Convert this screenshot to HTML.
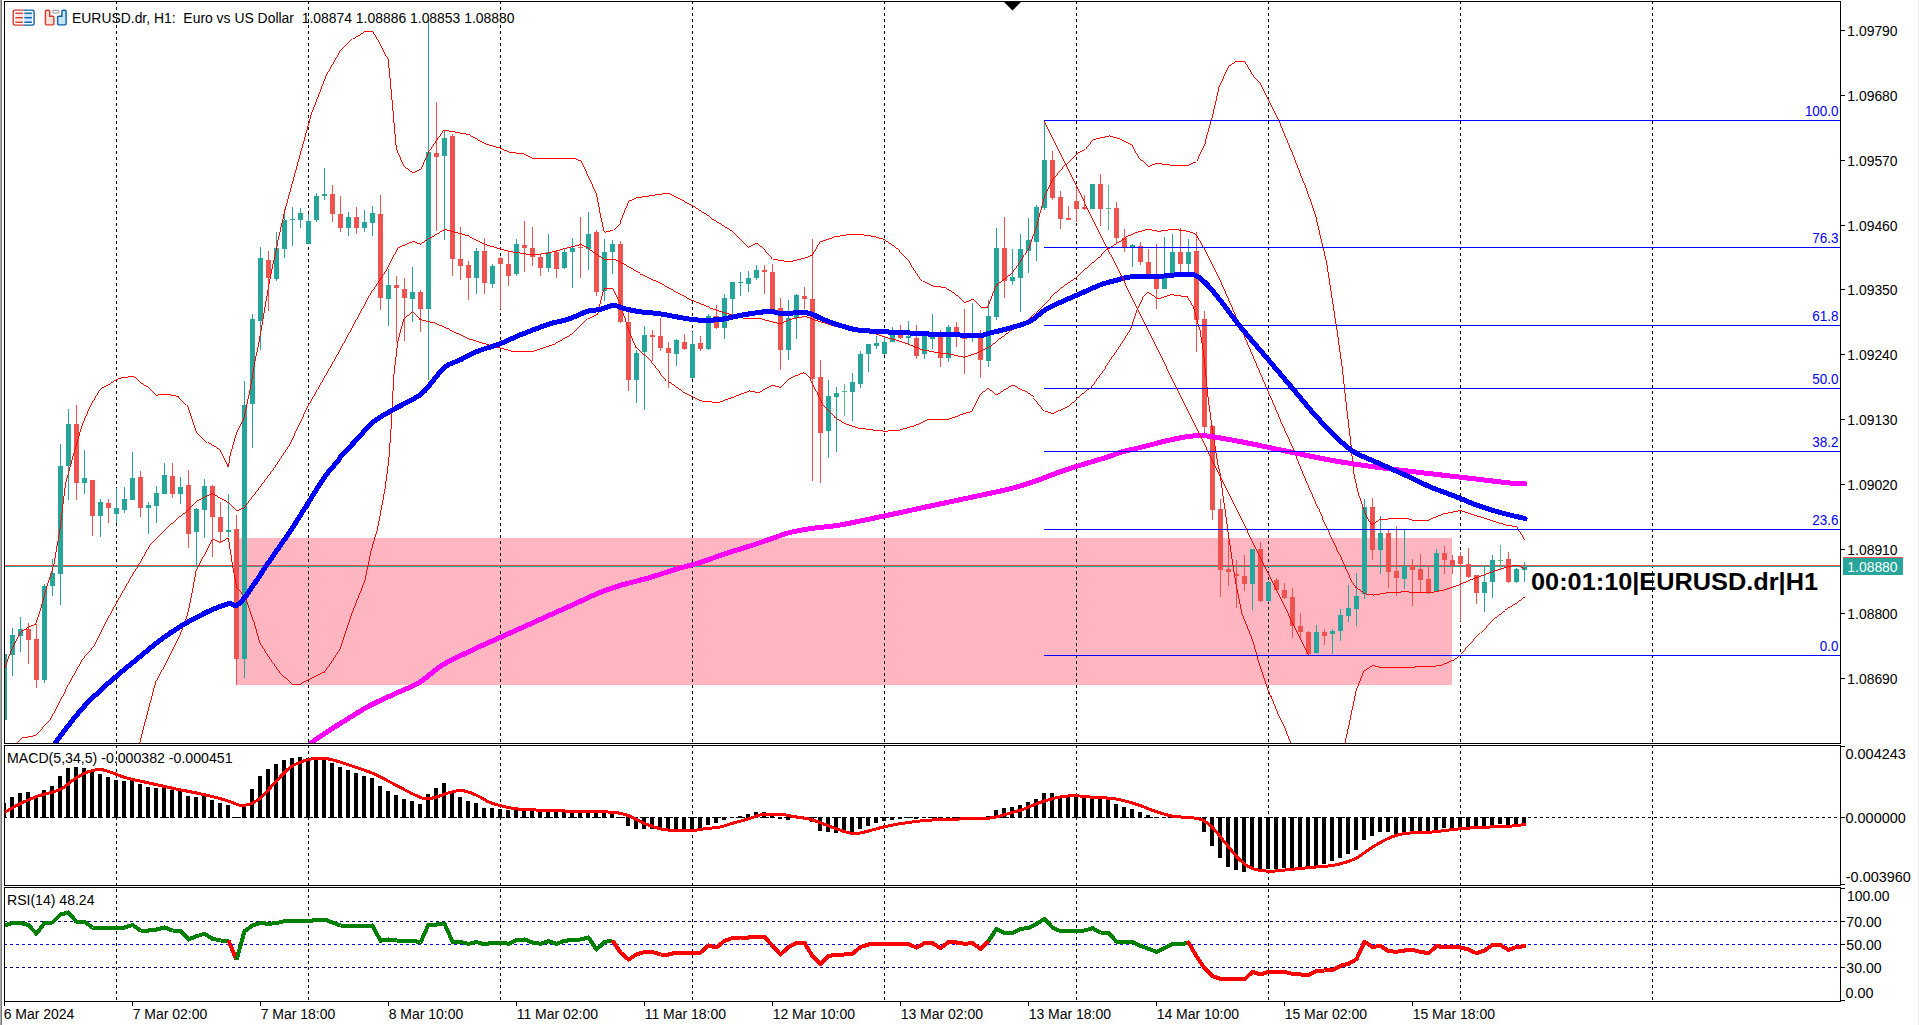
<!DOCTYPE html>
<html><head><meta charset="utf-8"><title>EURUSD.dr H1</title>
<style>html,body{margin:0;padding:0;background:#fff;overflow:hidden}svg{display:block;font-family:"Liberation Sans",sans-serif}</style></head><body>
<svg width="1919" height="1025" viewBox="0 0 1919 1025">
<rect width="1919" height="1025" fill="#fff"/>
<defs><clipPath id="cm"><rect x="5" y="2" width="1835" height="741"/></clipPath><clipPath id="c2"><rect x="5" y="746" width="1835" height="139"/></clipPath><clipPath id="c3"><rect x="5" y="888" width="1835" height="113"/></clipPath></defs>
<rect x="0" y="0" width="1" height="1025" fill="#a9a9a9"/><rect x="1" y="0" width="1" height="1025" fill="#787878"/>
<rect x="1918" y="0" width="1" height="1025" fill="#e6e6e6"/>
<g shape-rendering="crispEdges">
<rect x="236" y="538" width="1216" height="147" fill="#ffb6c1"/>
<line x1="116.5" y1="1" x2="116.5" y2="1001" stroke="#000" stroke-dasharray="3 3"/>
<line x1="308.5" y1="1" x2="308.5" y2="1001" stroke="#000" stroke-dasharray="3 3"/>
<line x1="500.5" y1="1" x2="500.5" y2="1001" stroke="#000" stroke-dasharray="3 3"/>
<line x1="692.5" y1="1" x2="692.5" y2="1001" stroke="#000" stroke-dasharray="3 3"/>
<line x1="884.5" y1="1" x2="884.5" y2="1001" stroke="#000" stroke-dasharray="3 3"/>
<line x1="1076.5" y1="1" x2="1076.5" y2="1001" stroke="#000" stroke-dasharray="3 3"/>
<line x1="1268.5" y1="1" x2="1268.5" y2="1001" stroke="#000" stroke-dasharray="3 3"/>
<line x1="1460.5" y1="1" x2="1460.5" y2="1001" stroke="#000" stroke-dasharray="3 3"/>
<line x1="1652.5" y1="1" x2="1652.5" y2="1001" stroke="#000" stroke-dasharray="3 3"/>
</g>
<g clip-path="url(#cm)">
<g shape-rendering="crispEdges"><rect x="5" y="565" width="1835" height="1" fill="#f24a48"/><rect x="5" y="566" width="1835" height="1" fill="#26a69a"/></g>
<g shape-rendering="crispEdges">
<rect x="4" y="652" width="1" height="69" fill="#26a69a"/>
<rect x="2" y="654" width="5" height="66" fill="#26a69a"/>
<rect x="12" y="628" width="1" height="48" fill="#26a69a"/>
<rect x="10" y="635" width="5" height="20" fill="#26a69a"/>
<rect x="20" y="617" width="1" height="35" fill="#26a69a"/>
<rect x="18" y="629" width="5" height="7" fill="#26a69a"/>
<rect x="28" y="623" width="1" height="41" fill="#ef5350"/>
<rect x="26" y="629" width="5" height="11" fill="#ef5350"/>
<rect x="36" y="624" width="1" height="64" fill="#ef5350"/>
<rect x="34" y="639" width="5" height="41" fill="#ef5350"/>
<rect x="44" y="584" width="1" height="99" fill="#26a69a"/>
<rect x="42" y="586" width="5" height="94" fill="#26a69a"/>
<rect x="52" y="559" width="1" height="37" fill="#26a69a"/>
<rect x="50" y="573" width="5" height="13" fill="#26a69a"/>
<rect x="60" y="444" width="1" height="161" fill="#26a69a"/>
<rect x="58" y="466" width="5" height="108" fill="#26a69a"/>
<rect x="68" y="409" width="1" height="91" fill="#26a69a"/>
<rect x="66" y="424" width="5" height="42" fill="#26a69a"/>
<rect x="76" y="405" width="1" height="95" fill="#ef5350"/>
<rect x="74" y="424" width="5" height="59" fill="#ef5350"/>
<rect x="84" y="450" width="1" height="44" fill="#26a69a"/>
<rect x="82" y="478" width="5" height="5" fill="#26a69a"/>
<rect x="92" y="480" width="1" height="56" fill="#ef5350"/>
<rect x="90" y="480" width="5" height="36" fill="#ef5350"/>
<rect x="100" y="499" width="1" height="38" fill="#26a69a"/>
<rect x="98" y="502" width="5" height="14" fill="#26a69a"/>
<rect x="108" y="499" width="1" height="24" fill="#ef5350"/>
<rect x="106" y="503" width="5" height="5" fill="#ef5350"/>
<rect x="116" y="488" width="1" height="35" fill="#26a69a"/>
<rect x="114" y="508" width="5" height="6" fill="#26a69a"/>
<rect x="124" y="487" width="1" height="26" fill="#26a69a"/>
<rect x="122" y="499" width="5" height="11" fill="#26a69a"/>
<rect x="132" y="452" width="1" height="48" fill="#26a69a"/>
<rect x="130" y="478" width="5" height="22" fill="#26a69a"/>
<rect x="140" y="471" width="1" height="46" fill="#ef5350"/>
<rect x="138" y="477" width="5" height="31" fill="#ef5350"/>
<rect x="148" y="502" width="1" height="32" fill="#26a69a"/>
<rect x="146" y="505" width="5" height="3" fill="#26a69a"/>
<rect x="156" y="486" width="1" height="37" fill="#26a69a"/>
<rect x="154" y="493" width="5" height="13" fill="#26a69a"/>
<rect x="164" y="463" width="1" height="31" fill="#26a69a"/>
<rect x="162" y="475" width="5" height="19" fill="#26a69a"/>
<rect x="172" y="463" width="1" height="35" fill="#ef5350"/>
<rect x="170" y="476" width="5" height="18" fill="#ef5350"/>
<rect x="180" y="477" width="1" height="27" fill="#26a69a"/>
<rect x="178" y="487" width="5" height="7" fill="#26a69a"/>
<rect x="188" y="470" width="1" height="78" fill="#ef5350"/>
<rect x="186" y="485" width="5" height="49" fill="#ef5350"/>
<rect x="196" y="508" width="1" height="58" fill="#26a69a"/>
<rect x="194" y="509" width="5" height="23" fill="#26a69a"/>
<rect x="204" y="479" width="1" height="59" fill="#26a69a"/>
<rect x="202" y="486" width="5" height="24" fill="#26a69a"/>
<rect x="212" y="485" width="1" height="72" fill="#ef5350"/>
<rect x="210" y="486" width="5" height="31" fill="#ef5350"/>
<rect x="220" y="502" width="1" height="41" fill="#ef5350"/>
<rect x="218" y="517" width="5" height="15" fill="#ef5350"/>
<rect x="228" y="494" width="1" height="43" fill="#26a69a"/>
<rect x="226" y="530" width="5" height="2" fill="#26a69a"/>
<rect x="236" y="515" width="1" height="170" fill="#ef5350"/>
<rect x="234" y="529" width="5" height="130" fill="#ef5350"/>
<rect x="244" y="381" width="1" height="297" fill="#26a69a"/>
<rect x="242" y="405" width="5" height="254" fill="#26a69a"/>
<rect x="252" y="314" width="1" height="134" fill="#26a69a"/>
<rect x="250" y="319" width="5" height="85" fill="#26a69a"/>
<rect x="260" y="247" width="1" height="103" fill="#26a69a"/>
<rect x="258" y="258" width="5" height="63" fill="#26a69a"/>
<rect x="268" y="251" width="1" height="60" fill="#ef5350"/>
<rect x="266" y="260" width="5" height="18" fill="#ef5350"/>
<rect x="276" y="232" width="1" height="49" fill="#26a69a"/>
<rect x="274" y="248" width="5" height="31" fill="#26a69a"/>
<rect x="284" y="209" width="1" height="49" fill="#26a69a"/>
<rect x="282" y="220" width="5" height="29" fill="#26a69a"/>
<rect x="292" y="207" width="1" height="39" fill="#26a69a"/>
<rect x="290" y="219" width="5" height="1" fill="#26a69a"/>
<rect x="300" y="208" width="1" height="20" fill="#26a69a"/>
<rect x="298" y="213" width="5" height="7" fill="#26a69a"/>
<rect x="308" y="214" width="1" height="30" fill="#26a69a"/>
<rect x="306" y="221" width="5" height="23" fill="#26a69a"/>
<rect x="316" y="193" width="1" height="29" fill="#26a69a"/>
<rect x="314" y="196" width="5" height="24" fill="#26a69a"/>
<rect x="324" y="168" width="1" height="32" fill="#26a69a"/>
<rect x="322" y="194" width="5" height="2" fill="#26a69a"/>
<rect x="332" y="185" width="1" height="37" fill="#ef5350"/>
<rect x="330" y="194" width="5" height="20" fill="#ef5350"/>
<rect x="340" y="196" width="1" height="36" fill="#ef5350"/>
<rect x="338" y="214" width="5" height="14" fill="#ef5350"/>
<rect x="348" y="212" width="1" height="24" fill="#26a69a"/>
<rect x="346" y="217" width="5" height="11" fill="#26a69a"/>
<rect x="356" y="207" width="1" height="27" fill="#ef5350"/>
<rect x="354" y="217" width="5" height="11" fill="#ef5350"/>
<rect x="364" y="210" width="1" height="22" fill="#26a69a"/>
<rect x="362" y="222" width="5" height="6" fill="#26a69a"/>
<rect x="372" y="206" width="1" height="30" fill="#26a69a"/>
<rect x="370" y="213" width="5" height="10" fill="#26a69a"/>
<rect x="380" y="195" width="1" height="115" fill="#ef5350"/>
<rect x="378" y="214" width="5" height="84" fill="#ef5350"/>
<rect x="388" y="269" width="1" height="57" fill="#26a69a"/>
<rect x="386" y="285" width="5" height="14" fill="#26a69a"/>
<rect x="396" y="276" width="1" height="66" fill="#ef5350"/>
<rect x="394" y="285" width="5" height="3" fill="#ef5350"/>
<rect x="404" y="278" width="1" height="63" fill="#ef5350"/>
<rect x="402" y="289" width="5" height="9" fill="#ef5350"/>
<rect x="412" y="267" width="1" height="55" fill="#26a69a"/>
<rect x="410" y="292" width="5" height="7" fill="#26a69a"/>
<rect x="420" y="290" width="1" height="42" fill="#ef5350"/>
<rect x="418" y="292" width="5" height="17" fill="#ef5350"/>
<rect x="428" y="19" width="1" height="361" fill="#26a69a"/>
<rect x="426" y="152" width="5" height="157" fill="#26a69a"/>
<rect x="436" y="102" width="1" height="129" fill="#ef5350"/>
<rect x="434" y="153" width="5" height="4" fill="#ef5350"/>
<rect x="444" y="131" width="1" height="109" fill="#26a69a"/>
<rect x="442" y="138" width="5" height="18" fill="#26a69a"/>
<rect x="452" y="134" width="1" height="142" fill="#ef5350"/>
<rect x="450" y="136" width="5" height="123" fill="#ef5350"/>
<rect x="460" y="227" width="1" height="53" fill="#ef5350"/>
<rect x="458" y="259" width="5" height="7" fill="#ef5350"/>
<rect x="468" y="261" width="1" height="39" fill="#ef5350"/>
<rect x="466" y="265" width="5" height="13" fill="#ef5350"/>
<rect x="476" y="248" width="1" height="46" fill="#26a69a"/>
<rect x="474" y="251" width="5" height="27" fill="#26a69a"/>
<rect x="484" y="238" width="1" height="56" fill="#ef5350"/>
<rect x="482" y="251" width="5" height="32" fill="#ef5350"/>
<rect x="492" y="264" width="1" height="24" fill="#26a69a"/>
<rect x="490" y="266" width="5" height="18" fill="#26a69a"/>
<rect x="500" y="257" width="1" height="52" fill="#ef5350"/>
<rect x="498" y="258" width="5" height="6" fill="#ef5350"/>
<rect x="508" y="251" width="1" height="35" fill="#ef5350"/>
<rect x="506" y="264" width="5" height="12" fill="#ef5350"/>
<rect x="516" y="239" width="1" height="37" fill="#26a69a"/>
<rect x="514" y="244" width="5" height="30" fill="#26a69a"/>
<rect x="524" y="221" width="1" height="51" fill="#ef5350"/>
<rect x="522" y="245" width="5" height="3" fill="#ef5350"/>
<rect x="532" y="227" width="1" height="39" fill="#ef5350"/>
<rect x="530" y="248" width="5" height="9" fill="#ef5350"/>
<rect x="540" y="254" width="1" height="22" fill="#ef5350"/>
<rect x="538" y="257" width="5" height="11" fill="#ef5350"/>
<rect x="548" y="234" width="1" height="38" fill="#26a69a"/>
<rect x="546" y="252" width="5" height="16" fill="#26a69a"/>
<rect x="556" y="250" width="1" height="28" fill="#ef5350"/>
<rect x="554" y="252" width="5" height="17" fill="#ef5350"/>
<rect x="564" y="248" width="1" height="21" fill="#26a69a"/>
<rect x="562" y="252" width="5" height="16" fill="#26a69a"/>
<rect x="572" y="238" width="1" height="50" fill="#26a69a"/>
<rect x="570" y="248" width="5" height="4" fill="#26a69a"/>
<rect x="580" y="217" width="1" height="61" fill="#ef5350"/>
<rect x="578" y="247" width="5" height="1" fill="#ef5350"/>
<rect x="588" y="212" width="1" height="58" fill="#26a69a"/>
<rect x="586" y="234" width="5" height="15" fill="#26a69a"/>
<rect x="596" y="230" width="1" height="66" fill="#ef5350"/>
<rect x="594" y="232" width="5" height="60" fill="#ef5350"/>
<rect x="604" y="239" width="1" height="62" fill="#26a69a"/>
<rect x="602" y="252" width="5" height="39" fill="#26a69a"/>
<rect x="612" y="240" width="1" height="34" fill="#26a69a"/>
<rect x="610" y="244" width="5" height="8" fill="#26a69a"/>
<rect x="620" y="241" width="1" height="82" fill="#ef5350"/>
<rect x="618" y="244" width="5" height="78" fill="#ef5350"/>
<rect x="628" y="312" width="1" height="79" fill="#ef5350"/>
<rect x="626" y="322" width="5" height="58" fill="#ef5350"/>
<rect x="636" y="350" width="1" height="53" fill="#26a69a"/>
<rect x="634" y="353" width="5" height="27" fill="#26a69a"/>
<rect x="644" y="326" width="1" height="84" fill="#26a69a"/>
<rect x="642" y="335" width="5" height="17" fill="#26a69a"/>
<rect x="652" y="330" width="1" height="31" fill="#ef5350"/>
<rect x="650" y="335" width="5" height="2" fill="#ef5350"/>
<rect x="660" y="318" width="1" height="33" fill="#ef5350"/>
<rect x="658" y="336" width="5" height="12" fill="#ef5350"/>
<rect x="668" y="342" width="1" height="46" fill="#ef5350"/>
<rect x="666" y="348" width="5" height="5" fill="#ef5350"/>
<rect x="676" y="339" width="1" height="27" fill="#26a69a"/>
<rect x="674" y="340" width="5" height="14" fill="#26a69a"/>
<rect x="684" y="334" width="1" height="16" fill="#ef5350"/>
<rect x="682" y="342" width="5" height="7" fill="#ef5350"/>
<rect x="692" y="332" width="1" height="47" fill="#26a69a"/>
<rect x="690" y="344" width="5" height="34" fill="#26a69a"/>
<rect x="700" y="336" width="1" height="15" fill="#ef5350"/>
<rect x="698" y="343" width="5" height="6" fill="#ef5350"/>
<rect x="708" y="314" width="1" height="36" fill="#26a69a"/>
<rect x="706" y="316" width="5" height="33" fill="#26a69a"/>
<rect x="716" y="305" width="1" height="24" fill="#ef5350"/>
<rect x="714" y="316" width="5" height="12" fill="#ef5350"/>
<rect x="724" y="294" width="1" height="45" fill="#26a69a"/>
<rect x="722" y="298" width="5" height="30" fill="#26a69a"/>
<rect x="732" y="282" width="1" height="33" fill="#26a69a"/>
<rect x="730" y="282" width="5" height="17" fill="#26a69a"/>
<rect x="740" y="272" width="1" height="24" fill="#26a69a"/>
<rect x="738" y="282" width="5" height="1" fill="#26a69a"/>
<rect x="748" y="271" width="1" height="21" fill="#26a69a"/>
<rect x="746" y="278" width="5" height="6" fill="#26a69a"/>
<rect x="756" y="265" width="1" height="15" fill="#26a69a"/>
<rect x="754" y="270" width="5" height="8" fill="#26a69a"/>
<rect x="764" y="265" width="1" height="29" fill="#ef5350"/>
<rect x="762" y="270" width="5" height="2" fill="#ef5350"/>
<rect x="772" y="264" width="1" height="46" fill="#ef5350"/>
<rect x="770" y="272" width="5" height="38" fill="#ef5350"/>
<rect x="780" y="298" width="1" height="72" fill="#ef5350"/>
<rect x="778" y="308" width="5" height="42" fill="#ef5350"/>
<rect x="788" y="300" width="1" height="60" fill="#26a69a"/>
<rect x="786" y="318" width="5" height="32" fill="#26a69a"/>
<rect x="796" y="294" width="1" height="45" fill="#26a69a"/>
<rect x="794" y="295" width="5" height="23" fill="#26a69a"/>
<rect x="804" y="287" width="1" height="22" fill="#ef5350"/>
<rect x="802" y="296" width="5" height="3" fill="#ef5350"/>
<rect x="812" y="239" width="1" height="242" fill="#ef5350"/>
<rect x="810" y="299" width="5" height="80" fill="#ef5350"/>
<rect x="820" y="360" width="1" height="123" fill="#ef5350"/>
<rect x="818" y="377" width="5" height="56" fill="#ef5350"/>
<rect x="828" y="380" width="1" height="78" fill="#26a69a"/>
<rect x="826" y="396" width="5" height="35" fill="#26a69a"/>
<rect x="836" y="387" width="1" height="65" fill="#26a69a"/>
<rect x="834" y="393" width="5" height="4" fill="#26a69a"/>
<rect x="844" y="384" width="1" height="32" fill="#5cba88"/>
<rect x="842" y="391" width="5" height="1" fill="#5cba88"/>
<rect x="852" y="373" width="1" height="48" fill="#26a69a"/>
<rect x="850" y="382" width="5" height="10" fill="#26a69a"/>
<rect x="860" y="351" width="1" height="37" fill="#26a69a"/>
<rect x="858" y="354" width="5" height="30" fill="#26a69a"/>
<rect x="868" y="344" width="1" height="28" fill="#26a69a"/>
<rect x="866" y="344" width="5" height="10" fill="#26a69a"/>
<rect x="876" y="336" width="1" height="13" fill="#26a69a"/>
<rect x="874" y="343" width="5" height="3" fill="#26a69a"/>
<rect x="884" y="336" width="1" height="19" fill="#26a69a"/>
<rect x="882" y="342" width="5" height="12" fill="#26a69a"/>
<rect x="892" y="327" width="1" height="15" fill="#26a69a"/>
<rect x="890" y="335" width="5" height="7" fill="#26a69a"/>
<rect x="900" y="325" width="1" height="14" fill="#ef5350"/>
<rect x="898" y="332" width="5" height="6" fill="#ef5350"/>
<rect x="908" y="321" width="1" height="23" fill="#26a69a"/>
<rect x="906" y="336" width="5" height="2" fill="#26a69a"/>
<rect x="916" y="325" width="1" height="34" fill="#ef5350"/>
<rect x="914" y="338" width="5" height="18" fill="#ef5350"/>
<rect x="924" y="336" width="1" height="23" fill="#26a69a"/>
<rect x="922" y="336" width="5" height="18" fill="#26a69a"/>
<rect x="932" y="314" width="1" height="35" fill="#26a69a"/>
<rect x="930" y="336" width="5" height="3" fill="#26a69a"/>
<rect x="940" y="330" width="1" height="37" fill="#ef5350"/>
<rect x="938" y="336" width="5" height="22" fill="#ef5350"/>
<rect x="948" y="325" width="1" height="37" fill="#26a69a"/>
<rect x="946" y="327" width="5" height="31" fill="#26a69a"/>
<rect x="956" y="322" width="1" height="25" fill="#ef5350"/>
<rect x="954" y="327" width="5" height="5" fill="#ef5350"/>
<rect x="964" y="309" width="1" height="65" fill="#ef5350"/>
<rect x="962" y="336" width="5" height="3" fill="#ef5350"/>
<rect x="972" y="303" width="1" height="39" fill="#26a69a"/>
<rect x="970" y="336" width="5" height="2" fill="#26a69a"/>
<rect x="980" y="330" width="1" height="48" fill="#ef5350"/>
<rect x="978" y="338" width="5" height="22" fill="#ef5350"/>
<rect x="988" y="300" width="1" height="67" fill="#26a69a"/>
<rect x="986" y="316" width="5" height="45" fill="#26a69a"/>
<rect x="996" y="228" width="1" height="92" fill="#26a69a"/>
<rect x="994" y="248" width="5" height="69" fill="#26a69a"/>
<rect x="1004" y="217" width="1" height="81" fill="#ef5350"/>
<rect x="1002" y="248" width="5" height="33" fill="#ef5350"/>
<rect x="1012" y="249" width="1" height="36" fill="#26a69a"/>
<rect x="1010" y="277" width="5" height="4" fill="#26a69a"/>
<rect x="1020" y="234" width="1" height="78" fill="#26a69a"/>
<rect x="1018" y="249" width="5" height="29" fill="#26a69a"/>
<rect x="1028" y="218" width="1" height="55" fill="#26a69a"/>
<rect x="1026" y="240" width="5" height="11" fill="#26a69a"/>
<rect x="1036" y="205" width="1" height="56" fill="#26a69a"/>
<rect x="1034" y="207" width="5" height="35" fill="#26a69a"/>
<rect x="1044" y="120" width="1" height="90" fill="#26a69a"/>
<rect x="1042" y="160" width="5" height="48" fill="#26a69a"/>
<rect x="1052" y="151" width="1" height="49" fill="#ef5350"/>
<rect x="1050" y="160" width="5" height="38" fill="#ef5350"/>
<rect x="1060" y="191" width="1" height="38" fill="#ef5350"/>
<rect x="1058" y="197" width="5" height="22" fill="#ef5350"/>
<rect x="1068" y="206" width="1" height="14" fill="#ef5350"/>
<rect x="1066" y="218" width="5" height="2" fill="#ef5350"/>
<rect x="1076" y="188" width="1" height="34" fill="#ef5350"/>
<rect x="1074" y="201" width="5" height="8" fill="#ef5350"/>
<rect x="1084" y="195" width="1" height="15" fill="#ef5350"/>
<rect x="1082" y="207" width="5" height="2" fill="#ef5350"/>
<rect x="1092" y="184" width="1" height="25" fill="#26a69a"/>
<rect x="1090" y="184" width="5" height="25" fill="#26a69a"/>
<rect x="1100" y="174" width="1" height="52" fill="#ef5350"/>
<rect x="1098" y="184" width="5" height="25" fill="#ef5350"/>
<rect x="1108" y="185" width="1" height="45" fill="#5cba88"/>
<rect x="1106" y="208" width="5" height="1" fill="#5cba88"/>
<rect x="1116" y="202" width="1" height="42" fill="#ef5350"/>
<rect x="1114" y="208" width="5" height="30" fill="#ef5350"/>
<rect x="1124" y="229" width="1" height="23" fill="#ef5350"/>
<rect x="1122" y="238" width="5" height="9" fill="#ef5350"/>
<rect x="1132" y="244" width="1" height="23" fill="#26a69a"/>
<rect x="1130" y="245" width="5" height="2" fill="#26a69a"/>
<rect x="1140" y="242" width="1" height="23" fill="#ef5350"/>
<rect x="1138" y="246" width="5" height="16" fill="#ef5350"/>
<rect x="1148" y="249" width="1" height="27" fill="#ef5350"/>
<rect x="1146" y="262" width="5" height="13" fill="#ef5350"/>
<rect x="1156" y="244" width="1" height="65" fill="#ef5350"/>
<rect x="1154" y="274" width="5" height="15" fill="#ef5350"/>
<rect x="1164" y="237" width="1" height="52" fill="#26a69a"/>
<rect x="1162" y="274" width="5" height="15" fill="#26a69a"/>
<rect x="1172" y="234" width="1" height="42" fill="#26a69a"/>
<rect x="1170" y="252" width="5" height="23" fill="#26a69a"/>
<rect x="1180" y="228" width="1" height="44" fill="#ef5350"/>
<rect x="1178" y="252" width="5" height="12" fill="#ef5350"/>
<rect x="1188" y="239" width="1" height="35" fill="#26a69a"/>
<rect x="1186" y="252" width="5" height="12" fill="#26a69a"/>
<rect x="1196" y="232" width="1" height="120" fill="#ef5350"/>
<rect x="1194" y="251" width="5" height="69" fill="#ef5350"/>
<rect x="1204" y="311" width="1" height="124" fill="#ef5350"/>
<rect x="1202" y="319" width="5" height="108" fill="#ef5350"/>
<rect x="1212" y="425" width="1" height="95" fill="#ef5350"/>
<rect x="1210" y="426" width="5" height="84" fill="#ef5350"/>
<rect x="1220" y="499" width="1" height="98" fill="#ef5350"/>
<rect x="1218" y="509" width="5" height="61" fill="#ef5350"/>
<rect x="1228" y="540" width="1" height="46" fill="#ef5350"/>
<rect x="1226" y="569" width="5" height="3" fill="#ef5350"/>
<rect x="1236" y="560" width="1" height="48" fill="#ef5350"/>
<rect x="1234" y="574" width="5" height="2" fill="#ef5350"/>
<rect x="1244" y="555" width="1" height="36" fill="#ef5350"/>
<rect x="1242" y="576" width="5" height="8" fill="#ef5350"/>
<rect x="1252" y="549" width="1" height="61" fill="#26a69a"/>
<rect x="1250" y="549" width="5" height="35" fill="#26a69a"/>
<rect x="1260" y="542" width="1" height="60" fill="#ef5350"/>
<rect x="1258" y="549" width="5" height="52" fill="#ef5350"/>
<rect x="1268" y="581" width="1" height="21" fill="#26a69a"/>
<rect x="1266" y="582" width="5" height="19" fill="#26a69a"/>
<rect x="1276" y="578" width="1" height="13" fill="#ef5350"/>
<rect x="1274" y="580" width="5" height="10" fill="#ef5350"/>
<rect x="1284" y="583" width="1" height="16" fill="#ef5350"/>
<rect x="1282" y="590" width="5" height="8" fill="#ef5350"/>
<rect x="1292" y="588" width="1" height="50" fill="#ef5350"/>
<rect x="1290" y="597" width="5" height="29" fill="#ef5350"/>
<rect x="1300" y="613" width="1" height="25" fill="#ef5350"/>
<rect x="1298" y="626" width="5" height="6" fill="#ef5350"/>
<rect x="1308" y="631" width="1" height="23" fill="#ef5350"/>
<rect x="1306" y="632" width="5" height="22" fill="#ef5350"/>
<rect x="1316" y="625" width="1" height="29" fill="#26a69a"/>
<rect x="1314" y="632" width="5" height="21" fill="#26a69a"/>
<rect x="1324" y="629" width="1" height="16" fill="#ef5350"/>
<rect x="1322" y="632" width="5" height="4" fill="#ef5350"/>
<rect x="1332" y="629" width="1" height="25" fill="#26a69a"/>
<rect x="1330" y="631" width="5" height="3" fill="#26a69a"/>
<rect x="1340" y="609" width="1" height="32" fill="#26a69a"/>
<rect x="1338" y="615" width="5" height="16" fill="#26a69a"/>
<rect x="1348" y="585" width="1" height="37" fill="#26a69a"/>
<rect x="1346" y="608" width="5" height="8" fill="#26a69a"/>
<rect x="1356" y="573" width="1" height="53" fill="#26a69a"/>
<rect x="1354" y="596" width="5" height="13" fill="#26a69a"/>
<rect x="1364" y="499" width="1" height="100" fill="#26a69a"/>
<rect x="1362" y="507" width="5" height="87" fill="#26a69a"/>
<rect x="1372" y="498" width="1" height="62" fill="#ef5350"/>
<rect x="1370" y="507" width="5" height="43" fill="#ef5350"/>
<rect x="1380" y="516" width="1" height="58" fill="#26a69a"/>
<rect x="1378" y="533" width="5" height="17" fill="#26a69a"/>
<rect x="1388" y="530" width="1" height="58" fill="#ef5350"/>
<rect x="1386" y="533" width="5" height="39" fill="#ef5350"/>
<rect x="1396" y="526" width="1" height="70" fill="#ef5350"/>
<rect x="1394" y="571" width="5" height="7" fill="#ef5350"/>
<rect x="1404" y="530" width="1" height="59" fill="#26a69a"/>
<rect x="1402" y="566" width="5" height="13" fill="#26a69a"/>
<rect x="1412" y="559" width="1" height="47" fill="#ef5350"/>
<rect x="1410" y="566" width="5" height="4" fill="#ef5350"/>
<rect x="1420" y="554" width="1" height="38" fill="#ef5350"/>
<rect x="1418" y="569" width="5" height="11" fill="#ef5350"/>
<rect x="1428" y="566" width="1" height="28" fill="#ef5350"/>
<rect x="1426" y="579" width="5" height="14" fill="#ef5350"/>
<rect x="1436" y="549" width="1" height="43" fill="#26a69a"/>
<rect x="1434" y="553" width="5" height="39" fill="#26a69a"/>
<rect x="1444" y="546" width="1" height="28" fill="#ef5350"/>
<rect x="1442" y="553" width="5" height="7" fill="#ef5350"/>
<rect x="1452" y="555" width="1" height="19" fill="#ef5350"/>
<rect x="1450" y="560" width="5" height="5" fill="#ef5350"/>
<rect x="1460" y="552" width="1" height="69" fill="#ef5350"/>
<rect x="1458" y="556" width="5" height="8" fill="#ef5350"/>
<rect x="1468" y="548" width="1" height="30" fill="#ef5350"/>
<rect x="1466" y="564" width="5" height="13" fill="#ef5350"/>
<rect x="1476" y="575" width="1" height="29" fill="#ef5350"/>
<rect x="1474" y="575" width="5" height="18" fill="#ef5350"/>
<rect x="1484" y="565" width="1" height="47" fill="#26a69a"/>
<rect x="1482" y="582" width="5" height="11" fill="#26a69a"/>
<rect x="1492" y="555" width="1" height="43" fill="#26a69a"/>
<rect x="1490" y="560" width="5" height="22" fill="#26a69a"/>
<rect x="1500" y="545" width="1" height="24" fill="#5cba88"/>
<rect x="1498" y="560" width="5" height="1" fill="#5cba88"/>
<rect x="1508" y="552" width="1" height="31" fill="#ef5350"/>
<rect x="1506" y="559" width="5" height="23" fill="#ef5350"/>
<rect x="1516" y="568" width="1" height="15" fill="#26a69a"/>
<rect x="1514" y="569" width="5" height="13" fill="#26a69a"/>
<rect x="1524" y="562" width="1" height="20" fill="#26a69a"/>
<rect x="1522" y="566" width="5" height="4" fill="#26a69a"/>
</g>
<polyline points="4.7,668.4 11.3,650.0 20.6,632.2 28.1,627.5 35.6,624.2 40.3,610.6 46.9,586.3 53.8,565.0 60.0,529.0 65.5,484.0 75.0,449.0 82.5,424.0 91.3,404.0 100.6,388.8 108.1,385.0 115.6,380.0 122.5,377.5 132.5,376.3 140.0,382.5 148.1,387.3 156.3,395.3 165.0,394.0 178.8,396.5 187.5,405.3 196.3,431.5 207.5,442.8 220.0,450.3 223.0,455.8 228.3,467.3 230.0,456.0 236.3,433.8 243.8,418.8 250.0,390.0 255.0,361.3 259.4,340.0 268.8,285.0 277.5,242.5 285.0,210.0 300.0,155.0 312.5,110.0 325.0,77.5 340.0,51.3 352.5,38.8 363.8,31.8 372.5,31.3 380.0,43.8 388.3,60.0 392.0,100.0 396.3,148.8 403.8,166.3 412.5,172.5 420.5,168.8 428.3,152.5 443.8,130.0 468.8,134.5 485.0,143.8 500.0,148.0 508.8,152.0 522.5,153.8 532.5,158.8 575.0,158.8 581.3,161.3 596.3,193.8 600.0,212.5 604.5,232.0 612.5,230.0 620.0,222.5 628.8,201.3 637.5,197.5 667.5,193.0 692.5,206.3 710.0,217.5 732.5,231.3 747.5,247.0 756.3,243.0 765.0,249.5 772.5,259.3 788.8,262.0 805.0,258.0 812.5,255.0 820.0,242.0 835.0,236.8 850.0,234.3 860.0,234.3 872.5,236.3 885.0,240.0 897.5,248.8 910.0,262.5 922.5,281.3 932.5,286.3 945.0,287.5 955.0,293.8 965.0,302.5 972.5,299.3 981.3,308.0 987.5,307.5 996.3,285.0 1005.0,278.8 1012.5,272.5 1021.3,260.0 1028.8,247.5 1037.5,222.5 1045.0,195.0 1052.5,180.0 1065.0,165.0 1077.5,152.5 1085.0,148.8 1092.5,139.5 1108.8,135.8 1120.0,138.8 1132.5,145.5 1140.0,158.8 1148.8,166.3 1156.3,163.3 1170.0,165.0 1187.5,165.0 1196.3,161.3 1205.0,142.5 1211.3,120.0 1218.8,87.5 1228.8,66.3 1236.3,61.3 1244.5,61.3 1251.3,72.5 1260.0,82.5 1270.0,102.5 1280.0,122.5 1292.5,152.5 1305.0,185.0 1316.3,217.5 1323.8,250.0 1327.5,267.5 1336.3,325.0 1342.5,370.0 1346.3,405.0 1351.3,447.5 1353.8,472.5 1358.8,495.0 1365.0,512.5 1372.0,525.0 1380.0,519.5 1405.0,518.0 1413.8,520.5 1427.5,520.0 1442.5,513.8 1460.0,510.5 1477.5,516.3 1492.5,521.3 1507.5,525.8 1516.3,526.3 1524.5,539.5" fill="none" stroke="#ff0000" stroke-width="0.99" shape-rendering="crispEdges"/>
<polyline points="16.9,742.9 22.5,737.8 35.6,735.4 48.8,721.3 65.7,689.5 82.5,659.4 93.8,646.3 105.0,623.8 116.3,603.2 131.3,576.9 141.6,560.0 150.0,545.0 156.0,538.7 176.3,519.4 187.2,511.2 196.7,501.0 212.3,493.6 229.2,503.0 236.7,511.2 244.1,507.8 260.0,487.0 275.0,467.0 290.0,444.0 307.5,407.0 340.0,350.0 372.5,290.0 387.5,267.5 397.5,247.5 412.5,241.3 420.0,244.5 428.8,238.8 444.5,229.5 468.8,236.3 485.0,244.5 508.8,251.3 532.5,255.0 550.0,252.5 580.5,244.5 590.0,250.0 605.0,260.0 615.0,259.3 622.5,263.8 640.0,273.8 660.0,283.0 675.0,291.3 692.5,300.8 710.0,308.0 725.0,313.0 742.5,318.0 757.5,318.0 770.0,321.3 780.0,323.8 792.5,318.8 805.0,316.3 815.0,320.0 835.0,326.3 855.0,331.3 875.0,333.8 892.5,339.3 910.0,345.0 922.5,350.0 935.0,352.5 947.5,353.8 963.8,357.5 975.0,353.8 987.5,347.5 996.3,341.3 1010.0,331.3 1022.5,323.8 1035.0,312.5 1050.0,297.5 1065.0,285.0 1076.3,277.5 1092.5,262.5 1107.5,248.8 1125.0,237.5 1135.0,233.0 1147.5,229.3 1157.5,231.3 1172.5,229.3 1187.5,231.3 1196.3,235.0 1205.0,250.0 1220.0,280.0 1237.5,320.0 1252.5,355.0 1267.5,390.0 1282.5,425.0 1295.0,452.5 1305.0,477.5 1322.5,517.5 1340.0,555.0 1350.0,577.5 1356.3,587.5 1365.0,593.8 1372.5,595.0 1387.5,592.5 1405.0,591.8 1427.5,593.0 1442.5,590.0 1460.0,584.3 1477.5,577.0 1492.5,571.3 1505.0,567.5 1516.3,565.0 1525.0,568.8" fill="none" stroke="#ff0000" stroke-width="0.99" shape-rendering="crispEdges"/>
<polyline points="139.8,742.9 148.2,710.0 155.7,682.0 165.0,665.0 180.0,635.0 187.6,614.4 192.3,591.9 196.0,571.3 201.7,560.0 212.5,539.0 220.0,542.8 228.3,537.8 232.5,565.0 234.5,575.0 236.8,588.1 245.8,597.5 253.3,620.0 259.8,642.6 270.2,659.4 281.4,674.4 292.7,684.2 300.2,684.2 309.6,679.1 324.6,672.0 339.6,650.0 350.8,616.3 360.0,592.8 365.5,577.5 371.3,550.0 377.5,529.0 385.0,489.0 388.8,460.0 391.3,425.0 393.8,375.0 397.5,342.5 403.8,318.8 412.5,311.8 420.0,319.5 432.5,322.5 450.0,330.0 468.8,338.8 485.0,343.8 500.0,348.0 512.5,351.3 532.5,351.3 555.0,343.8 572.5,333.8 587.5,318.8 597.5,313.8 602.5,292.5 605.0,288.3 612.5,288.3 620.0,302.5 625.0,317.5 630.0,332.5 636.3,347.5 650.0,360.0 660.0,372.5 667.5,381.3 682.5,392.0 692.5,397.5 700.0,400.8 717.5,402.5 732.5,397.0 748.8,390.8 757.5,392.5 772.5,385.5 780.0,387.5 788.8,378.8 803.8,372.5 810.0,377.5 816.3,391.0 822.5,404.0 835.0,417.5 845.0,423.8 857.5,428.0 872.5,430.0 885.0,431.3 900.0,430.0 912.5,426.3 927.5,419.5 947.5,419.3 960.0,415.0 972.0,411.3 980.0,395.0 988.0,388.0 996.3,395.0 1012.5,385.0 1022.5,390.0 1033.8,397.5 1045.0,411.3 1052.5,413.3 1067.5,406.3 1076.3,398.8 1090.0,388.0 1105.0,367.5 1120.0,346.0 1130.0,330.0 1137.5,307.5 1142.5,297.5 1148.0,292.0 1157.5,298.8 1170.0,294.5 1187.5,297.0 1193.8,307.5 1200.0,330.0 1203.8,355.0 1207.5,392.5 1212.5,430.0 1217.5,462.5 1220.0,472.5 1227.5,527.5 1235.0,577.5 1242.5,615.0 1252.5,640.0 1257.5,657.5 1267.5,687.5 1277.5,712.5 1285.0,727.5 1290.8,742.5 1300.0,770.0 1340.0,770.0 1345.0,742.5 1350.0,720.0 1356.3,690.0 1363.8,671.3 1372.5,665.5 1380.0,667.5 1415.0,667.0 1440.0,665.8 1452.5,660.5 1461.3,653.8 1470.0,643.8 1480.0,633.0 1492.5,619.5 1505.0,610.0 1516.3,603.3 1524.5,597.0" fill="none" stroke="#ff0000" stroke-width="0.99" shape-rendering="crispEdges"/>
<path d="M306.0,748.0 C307.1,747.0 308.5,745.0 312.5,742.0 C316.5,739.0 323.8,734.1 330.0,730.0 C336.2,725.9 343.3,721.6 350.0,717.5 C356.7,713.4 362.5,709.5 370.0,705.5 C377.5,701.5 386.7,697.7 395.0,693.8 C403.3,689.9 412.1,686.8 420.0,682.0 C427.9,677.2 433.3,670.5 442.5,665.0 C451.7,659.5 465.4,653.4 475.0,648.8 C484.6,644.2 491.7,641.2 500.0,637.5 C508.3,633.8 516.7,630.0 525.0,626.3 C533.3,622.5 541.7,618.8 550.0,615.0 C558.3,611.2 566.7,607.5 575.0,603.8 C583.3,600.0 592.5,595.5 600.0,592.5 C607.5,589.5 611.7,588.0 620.0,585.5 C628.3,583.0 640.8,580.2 650.0,577.5 C659.2,574.8 666.7,572.0 675.0,569.5 C683.3,567.0 691.7,565.1 700.0,562.5 C708.3,559.9 716.7,556.5 725.0,553.8 C733.3,551.0 742.5,548.4 750.0,546.0 C757.5,543.6 763.3,541.5 770.0,539.3 C776.7,537.0 782.5,534.4 790.0,532.5 C797.5,530.6 806.7,529.2 815.0,528.0 C823.3,526.8 828.3,527.0 840.0,525.0 C851.7,523.0 873.3,518.2 885.0,515.8 C896.7,513.4 901.7,512.3 910.0,510.5 C918.3,508.7 924.6,507.2 935.0,505.0 C945.4,502.8 960.0,499.7 972.5,497.0 C985.0,494.3 999.6,491.4 1010.0,488.8 C1020.4,486.2 1026.7,484.1 1035.0,481.3 C1043.3,478.5 1051.7,474.7 1060.0,471.8 C1068.3,468.9 1076.7,466.4 1085.0,463.8 C1093.3,461.2 1104.2,458.2 1110.0,456.3 C1115.8,454.4 1114.2,454.2 1120.0,452.5 C1125.8,450.8 1136.7,448.4 1145.0,446.3 C1153.3,444.2 1162.5,441.7 1170.0,440.0 C1177.5,438.3 1184.2,437.0 1190.0,436.3 C1195.8,435.6 1199.2,435.4 1205.0,435.8 C1210.8,436.2 1216.7,437.4 1225.0,438.8 C1233.3,440.2 1243.3,442.1 1255.0,444.5 C1266.7,446.9 1282.1,450.3 1295.0,453.0 C1307.9,455.7 1320.0,458.3 1332.5,460.5 C1345.0,462.7 1355.4,464.3 1370.0,466.3 C1384.6,468.3 1403.3,470.5 1420.0,472.5 C1436.7,474.5 1455.0,476.6 1470.0,478.3 C1485.0,480.1 1500.8,482.1 1510.0,483.0 C1519.2,483.9 1522.5,483.7 1525.0,483.8" fill="none" stroke="#ff00ff" stroke-width="5" stroke-linejoin="round" stroke-linecap="round" shape-rendering="crispEdges"/>
<path d="M52.0,748.0 C52.5,747.1 53.0,746.1 55.3,742.9 C57.6,739.7 61.2,734.7 65.7,728.9 C70.2,723.1 76.6,714.8 82.5,708.2 C88.4,701.6 95.7,694.8 101.3,689.5 C106.9,684.2 110.0,681.6 116.3,676.3 C122.5,671.0 131.6,663.5 138.8,657.6 C146.0,651.7 152.6,645.9 159.5,640.7 C166.4,635.5 173.8,630.5 180.1,626.6 C186.3,622.7 191.7,620.0 197.0,617.2 C202.3,614.4 206.7,612.0 212.0,609.7 C217.3,607.5 224.9,604.4 228.9,603.7 C232.9,603.0 233.5,606.5 236.0,605.6 C238.5,604.7 241.0,601.9 243.9,598.5 C246.8,595.1 248.9,591.7 253.3,585.3 C257.7,578.9 264.1,569.0 270.2,560.0 C276.3,551.0 283.8,540.8 290.0,531.5 C296.2,522.2 301.7,513.2 307.5,504.0 C313.3,494.8 320.0,483.6 325.0,476.5 C330.0,469.4 334.8,464.9 337.5,461.5 C340.2,458.1 338.0,459.6 341.3,455.8 C344.6,452.0 352.3,444.4 357.5,438.8 C362.7,433.2 366.7,427.3 372.5,422.5 C378.3,417.7 384.6,414.6 392.5,410.0 C400.4,405.4 413.3,399.8 420.0,395.0 C426.7,390.2 428.3,386.0 432.5,381.3 C436.7,376.6 440.4,370.4 445.0,366.8 C449.6,363.2 454.6,362.6 460.0,360.0 C465.4,357.4 470.8,354.0 477.5,351.3 C484.2,348.6 492.9,346.5 500.0,343.8 C507.1,341.1 511.7,338.3 520.0,335.0 C528.3,331.7 542.1,326.4 550.0,323.8 C557.9,321.2 561.2,321.6 567.5,319.5 C573.8,317.4 582.1,313.0 587.5,311.3 C592.9,309.6 595.6,310.5 600.0,309.5 C604.4,308.5 609.6,305.6 613.8,305.5 C618.0,305.4 620.6,307.8 625.0,308.8 C629.4,309.9 634.2,311.0 640.0,311.8 C645.8,312.6 653.8,312.9 660.0,313.8 C666.2,314.7 671.2,316.0 677.5,317.0 C683.8,318.0 690.4,319.6 697.5,320.0 C704.6,320.4 712.5,320.3 720.0,319.5 C727.5,318.7 734.2,316.4 742.5,315.0 C750.8,313.6 763.8,311.6 770.0,311.3 C776.2,311.0 773.8,313.0 780.0,313.3 C786.2,313.6 800.8,312.2 807.5,313.0 C814.2,313.8 815.4,316.2 820.0,318.0 C824.6,319.8 829.2,321.9 835.0,323.8 C840.8,325.7 848.3,328.2 855.0,329.5 C861.7,330.8 865.8,330.7 875.0,331.3 C884.2,331.9 900.0,332.5 910.0,333.0 C920.0,333.5 926.7,334.0 935.0,334.3 C943.3,334.6 952.5,334.8 960.0,335.0 C967.5,335.2 975.0,335.8 980.0,335.5 C985.0,335.2 985.0,334.2 990.0,333.0 C995.0,331.8 1003.3,329.9 1010.0,328.0 C1016.7,326.1 1024.2,324.3 1030.0,321.3 C1035.8,318.3 1040.0,313.1 1045.0,310.0 C1050.0,306.9 1054.2,305.2 1060.0,302.5 C1065.8,299.8 1073.3,296.7 1080.0,293.8 C1086.7,290.9 1093.8,287.3 1100.0,285.0 C1106.2,282.7 1112.5,281.3 1117.5,280.0 C1122.5,278.7 1123.3,277.6 1130.0,277.0 C1136.7,276.4 1147.9,277.0 1157.5,276.5 C1167.1,276.0 1180.8,274.0 1187.5,274.0 C1194.2,274.0 1194.2,274.7 1197.5,276.5 C1200.8,278.3 1203.8,281.1 1207.5,285.0 C1211.2,288.9 1214.6,293.1 1220.0,300.0 C1225.4,306.9 1232.1,316.5 1240.0,326.3 C1247.9,336.1 1258.3,348.0 1267.5,358.8 C1276.7,369.6 1287.1,381.9 1295.0,391.3 C1302.9,400.7 1307.9,407.1 1315.0,415.0 C1322.1,422.9 1330.8,432.2 1337.5,438.5 C1344.2,444.8 1347.9,448.3 1355.0,452.5 C1362.1,456.7 1371.7,460.1 1380.0,463.8 C1388.3,467.6 1396.7,471.2 1405.0,475.0 C1413.3,478.8 1421.7,483.2 1430.0,486.8 C1438.3,490.4 1446.7,493.1 1455.0,496.3 C1463.3,499.6 1471.7,503.4 1480.0,506.3 C1488.3,509.2 1497.5,511.8 1505.0,513.8 C1512.5,515.8 1521.7,517.7 1525.0,518.5" fill="none" stroke="#0000ff" stroke-width="5" stroke-linejoin="round" stroke-linecap="round" shape-rendering="crispEdges"/>
<g shape-rendering="crispEdges">
<rect x="1044" y="120" width="796" height="1" fill="#0000ff"/>
<rect x="1044" y="247" width="796" height="1" fill="#0000ff"/>
<rect x="1044" y="325" width="796" height="1" fill="#0000ff"/>
<rect x="1044" y="388" width="796" height="1" fill="#0000ff"/>
<rect x="1044" y="451" width="796" height="1" fill="#0000ff"/>
<rect x="1044" y="529" width="796" height="1" fill="#0000ff"/>
<rect x="1044" y="655" width="796" height="1" fill="#0000ff"/>
</g>
<text x="1838.5" y="116" font-size="14" fill="#0000ff" text-anchor="end" textLength="33.6" lengthAdjust="spacingAndGlyphs" xml:space="preserve">100.0</text>
<text x="1838.5" y="243" font-size="14" fill="#0000ff" text-anchor="end" textLength="26.2" lengthAdjust="spacingAndGlyphs" xml:space="preserve">76.3</text>
<text x="1838.5" y="321" font-size="14" fill="#0000ff" text-anchor="end" textLength="26.2" lengthAdjust="spacingAndGlyphs" xml:space="preserve">61.8</text>
<text x="1838.5" y="384" font-size="14" fill="#0000ff" text-anchor="end" textLength="26.2" lengthAdjust="spacingAndGlyphs" xml:space="preserve">50.0</text>
<text x="1838.5" y="447" font-size="14" fill="#0000ff" text-anchor="end" textLength="26.2" lengthAdjust="spacingAndGlyphs" xml:space="preserve">38.2</text>
<text x="1838.5" y="525" font-size="14" fill="#0000ff" text-anchor="end" textLength="26.2" lengthAdjust="spacingAndGlyphs" xml:space="preserve">23.6</text>
<text x="1838.5" y="651" font-size="14" fill="#0000ff" text-anchor="end" textLength="18.7" lengthAdjust="spacingAndGlyphs" xml:space="preserve">0.0</text>
<line x1="1044.5" y1="120.5" x2="1308.5" y2="655" stroke="#ff0000" stroke-width="0.99" shape-rendering="crispEdges"/>
<text x="1531" y="589.5" font-size="24" fill="#000" textLength="287" lengthAdjust="spacingAndGlyphs" font-weight="bold" xml:space="preserve">00:01:10|EURUSD.dr|H1</text>
</g>
<g clip-path="url(#c2)">
<g shape-rendering="crispEdges">
<line x1="4" y1="817.5" x2="1840" y2="817.5" stroke="#000" stroke-dasharray="3 3"/>
<rect x="2" y="803" width="4" height="15" fill="#000"/>
<rect x="10" y="797" width="4" height="21" fill="#000"/>
<rect x="18" y="793" width="4" height="25" fill="#000"/>
<rect x="26" y="792" width="4" height="26" fill="#000"/>
<rect x="34" y="796" width="4" height="22" fill="#000"/>
<rect x="42" y="790" width="4" height="28" fill="#000"/>
<rect x="50" y="786" width="4" height="32" fill="#000"/>
<rect x="58" y="776" width="4" height="42" fill="#000"/>
<rect x="66" y="768" width="4" height="50" fill="#000"/>
<rect x="74" y="767" width="4" height="51" fill="#000"/>
<rect x="82" y="768" width="4" height="50" fill="#000"/>
<rect x="90" y="770" width="4" height="48" fill="#000"/>
<rect x="98" y="774" width="4" height="44" fill="#000"/>
<rect x="106" y="777" width="4" height="41" fill="#000"/>
<rect x="114" y="780" width="4" height="38" fill="#000"/>
<rect x="122" y="781" width="4" height="37" fill="#000"/>
<rect x="130" y="780" width="4" height="38" fill="#000"/>
<rect x="138" y="784" width="4" height="34" fill="#000"/>
<rect x="146" y="787" width="4" height="31" fill="#000"/>
<rect x="154" y="788" width="4" height="30" fill="#000"/>
<rect x="162" y="788" width="4" height="30" fill="#000"/>
<rect x="170" y="790" width="4" height="28" fill="#000"/>
<rect x="178" y="791" width="4" height="27" fill="#000"/>
<rect x="186" y="796" width="4" height="22" fill="#000"/>
<rect x="194" y="797" width="4" height="21" fill="#000"/>
<rect x="202" y="796" width="4" height="22" fill="#000"/>
<rect x="210" y="800" width="4" height="18" fill="#000"/>
<rect x="218" y="803" width="4" height="15" fill="#000"/>
<rect x="226" y="805" width="4" height="13" fill="#000"/>
<rect x="234" y="817" width="4" height="1" fill="#000"/>
<rect x="242" y="806" width="4" height="12" fill="#000"/>
<rect x="250" y="789" width="4" height="29" fill="#000"/>
<rect x="258" y="776" width="4" height="42" fill="#000"/>
<rect x="266" y="769" width="4" height="49" fill="#000"/>
<rect x="274" y="764" width="4" height="54" fill="#000"/>
<rect x="282" y="760" width="4" height="58" fill="#000"/>
<rect x="290" y="758" width="4" height="60" fill="#000"/>
<rect x="298" y="757" width="4" height="61" fill="#000"/>
<rect x="306" y="758" width="4" height="60" fill="#000"/>
<rect x="314" y="759" width="4" height="59" fill="#000"/>
<rect x="322" y="760" width="4" height="58" fill="#000"/>
<rect x="330" y="763" width="4" height="55" fill="#000"/>
<rect x="338" y="767" width="4" height="51" fill="#000"/>
<rect x="346" y="770" width="4" height="48" fill="#000"/>
<rect x="354" y="773" width="4" height="45" fill="#000"/>
<rect x="362" y="776" width="4" height="42" fill="#000"/>
<rect x="370" y="778" width="4" height="40" fill="#000"/>
<rect x="378" y="786" width="4" height="32" fill="#000"/>
<rect x="386" y="791" width="4" height="27" fill="#000"/>
<rect x="394" y="795" width="4" height="23" fill="#000"/>
<rect x="402" y="799" width="4" height="19" fill="#000"/>
<rect x="410" y="801" width="4" height="17" fill="#000"/>
<rect x="418" y="804" width="4" height="14" fill="#000"/>
<rect x="426" y="794" width="4" height="24" fill="#000"/>
<rect x="434" y="788" width="4" height="30" fill="#000"/>
<rect x="442" y="783" width="4" height="35" fill="#000"/>
<rect x="450" y="793" width="4" height="25" fill="#000"/>
<rect x="458" y="797" width="4" height="21" fill="#000"/>
<rect x="466" y="801" width="4" height="17" fill="#000"/>
<rect x="474" y="803" width="4" height="15" fill="#000"/>
<rect x="482" y="808" width="4" height="10" fill="#000"/>
<rect x="490" y="808" width="4" height="10" fill="#000"/>
<rect x="498" y="809" width="4" height="9" fill="#000"/>
<rect x="506" y="810" width="4" height="8" fill="#000"/>
<rect x="514" y="810" width="4" height="8" fill="#000"/>
<rect x="522" y="810" width="4" height="8" fill="#000"/>
<rect x="530" y="810" width="4" height="8" fill="#000"/>
<rect x="538" y="810" width="4" height="8" fill="#000"/>
<rect x="546" y="810" width="4" height="8" fill="#000"/>
<rect x="554" y="811" width="4" height="7" fill="#000"/>
<rect x="562" y="811" width="4" height="7" fill="#000"/>
<rect x="570" y="811" width="4" height="7" fill="#000"/>
<rect x="578" y="811" width="4" height="7" fill="#000"/>
<rect x="586" y="810" width="4" height="8" fill="#000"/>
<rect x="594" y="812" width="4" height="6" fill="#000"/>
<rect x="602" y="812" width="4" height="6" fill="#000"/>
<rect x="610" y="814" width="4" height="4" fill="#000"/>
<rect x="618" y="817" width="4" height="1" fill="#000"/>
<rect x="626" y="817" width="4" height="9" fill="#000"/>
<rect x="634" y="817" width="4" height="12" fill="#000"/>
<rect x="642" y="817" width="4" height="12" fill="#000"/>
<rect x="650" y="817" width="4" height="12" fill="#000"/>
<rect x="658" y="817" width="4" height="12" fill="#000"/>
<rect x="666" y="817" width="4" height="13" fill="#000"/>
<rect x="674" y="817" width="4" height="12" fill="#000"/>
<rect x="682" y="817" width="4" height="12" fill="#000"/>
<rect x="690" y="817" width="4" height="12" fill="#000"/>
<rect x="698" y="817" width="4" height="11" fill="#000"/>
<rect x="706" y="817" width="4" height="8" fill="#000"/>
<rect x="714" y="817" width="4" height="6" fill="#000"/>
<rect x="722" y="817" width="4" height="3" fill="#000"/>
<rect x="730" y="817" width="4" height="1" fill="#000"/>
<rect x="738" y="816" width="4" height="2" fill="#000"/>
<rect x="746" y="814" width="4" height="4" fill="#000"/>
<rect x="754" y="812" width="4" height="6" fill="#000"/>
<rect x="762" y="812" width="4" height="6" fill="#000"/>
<rect x="770" y="815" width="4" height="3" fill="#000"/>
<rect x="778" y="817" width="4" height="2" fill="#000"/>
<rect x="786" y="817" width="4" height="3" fill="#000"/>
<rect x="794" y="817" width="4" height="1" fill="#000"/>
<rect x="802" y="817" width="4" height="2" fill="#000"/>
<rect x="810" y="817" width="4" height="5" fill="#000"/>
<rect x="818" y="817" width="4" height="14" fill="#000"/>
<rect x="826" y="817" width="4" height="15" fill="#000"/>
<rect x="834" y="817" width="4" height="16" fill="#000"/>
<rect x="842" y="817" width="4" height="16" fill="#000"/>
<rect x="850" y="817" width="4" height="15" fill="#000"/>
<rect x="858" y="817" width="4" height="12" fill="#000"/>
<rect x="866" y="817" width="4" height="9" fill="#000"/>
<rect x="874" y="817" width="4" height="6" fill="#000"/>
<rect x="882" y="817" width="4" height="4" fill="#000"/>
<rect x="890" y="817" width="4" height="3" fill="#000"/>
<rect x="898" y="817" width="4" height="2" fill="#000"/>
<rect x="906" y="817" width="4" height="1" fill="#000"/>
<rect x="914" y="817" width="4" height="2" fill="#000"/>
<rect x="922" y="817" width="4" height="1" fill="#000"/>
<rect x="930" y="817" width="4" height="1" fill="#000"/>
<rect x="938" y="817" width="4" height="1" fill="#000"/>
<rect x="946" y="817" width="4" height="1" fill="#000"/>
<rect x="954" y="817" width="4" height="1" fill="#000"/>
<rect x="962" y="817" width="4" height="1" fill="#000"/>
<rect x="970" y="817" width="4" height="1" fill="#000"/>
<rect x="978" y="817" width="4" height="1" fill="#000"/>
<rect x="986" y="816" width="4" height="2" fill="#000"/>
<rect x="994" y="810" width="4" height="8" fill="#000"/>
<rect x="1002" y="808" width="4" height="10" fill="#000"/>
<rect x="1010" y="807" width="4" height="11" fill="#000"/>
<rect x="1018" y="805" width="4" height="13" fill="#000"/>
<rect x="1026" y="802" width="4" height="16" fill="#000"/>
<rect x="1034" y="799" width="4" height="19" fill="#000"/>
<rect x="1042" y="793" width="4" height="25" fill="#000"/>
<rect x="1050" y="793" width="4" height="25" fill="#000"/>
<rect x="1058" y="796" width="4" height="22" fill="#000"/>
<rect x="1066" y="796" width="4" height="22" fill="#000"/>
<rect x="1074" y="796" width="4" height="22" fill="#000"/>
<rect x="1082" y="798" width="4" height="20" fill="#000"/>
<rect x="1090" y="798" width="4" height="20" fill="#000"/>
<rect x="1098" y="798" width="4" height="20" fill="#000"/>
<rect x="1106" y="799" width="4" height="19" fill="#000"/>
<rect x="1114" y="804" width="4" height="14" fill="#000"/>
<rect x="1122" y="807" width="4" height="11" fill="#000"/>
<rect x="1130" y="809" width="4" height="9" fill="#000"/>
<rect x="1138" y="812" width="4" height="6" fill="#000"/>
<rect x="1146" y="815" width="4" height="3" fill="#000"/>
<rect x="1154" y="817" width="4" height="1" fill="#000"/>
<rect x="1162" y="817" width="4" height="1" fill="#000"/>
<rect x="1170" y="817" width="4" height="1" fill="#000"/>
<rect x="1178" y="817" width="4" height="1" fill="#000"/>
<rect x="1186" y="817" width="4" height="1" fill="#000"/>
<rect x="1194" y="817" width="4" height="2" fill="#000"/>
<rect x="1202" y="817" width="4" height="15" fill="#000"/>
<rect x="1210" y="817" width="4" height="29" fill="#000"/>
<rect x="1218" y="817" width="4" height="41" fill="#000"/>
<rect x="1226" y="817" width="4" height="50" fill="#000"/>
<rect x="1234" y="817" width="4" height="53" fill="#000"/>
<rect x="1242" y="817" width="4" height="55" fill="#000"/>
<rect x="1250" y="817" width="4" height="52" fill="#000"/>
<rect x="1258" y="817" width="4" height="52" fill="#000"/>
<rect x="1266" y="817" width="4" height="52" fill="#000"/>
<rect x="1274" y="817" width="4" height="52" fill="#000"/>
<rect x="1282" y="817" width="4" height="51" fill="#000"/>
<rect x="1290" y="817" width="4" height="51" fill="#000"/>
<rect x="1298" y="817" width="4" height="51" fill="#000"/>
<rect x="1306" y="817" width="4" height="50" fill="#000"/>
<rect x="1314" y="817" width="4" height="49" fill="#000"/>
<rect x="1322" y="817" width="4" height="47" fill="#000"/>
<rect x="1330" y="817" width="4" height="44" fill="#000"/>
<rect x="1338" y="817" width="4" height="41" fill="#000"/>
<rect x="1346" y="817" width="4" height="37" fill="#000"/>
<rect x="1354" y="817" width="4" height="33" fill="#000"/>
<rect x="1362" y="817" width="4" height="23" fill="#000"/>
<rect x="1370" y="817" width="4" height="19" fill="#000"/>
<rect x="1378" y="817" width="4" height="15" fill="#000"/>
<rect x="1386" y="817" width="4" height="15" fill="#000"/>
<rect x="1394" y="817" width="4" height="17" fill="#000"/>
<rect x="1402" y="817" width="4" height="16" fill="#000"/>
<rect x="1410" y="817" width="4" height="15" fill="#000"/>
<rect x="1418" y="817" width="4" height="15" fill="#000"/>
<rect x="1426" y="817" width="4" height="15" fill="#000"/>
<rect x="1434" y="817" width="4" height="13" fill="#000"/>
<rect x="1442" y="817" width="4" height="11" fill="#000"/>
<rect x="1450" y="817" width="4" height="11" fill="#000"/>
<rect x="1458" y="817" width="4" height="10" fill="#000"/>
<rect x="1466" y="817" width="4" height="10" fill="#000"/>
<rect x="1474" y="817" width="4" height="10" fill="#000"/>
<rect x="1482" y="817" width="4" height="10" fill="#000"/>
<rect x="1490" y="817" width="4" height="9" fill="#000"/>
<rect x="1498" y="817" width="4" height="7" fill="#000"/>
<rect x="1506" y="817" width="4" height="9" fill="#000"/>
<rect x="1514" y="817" width="4" height="8" fill="#000"/>
<rect x="1522" y="817" width="4" height="7" fill="#000"/>
</g>
<path d="M4.5,812.5 C7.1,811.0 14.5,806.5 20.0,803.8 C25.5,801.0 30.8,798.6 37.5,796.2 C44.2,793.9 53.8,792.4 60.0,789.5 C66.2,786.6 70.4,781.7 75.0,778.8 C79.6,775.8 83.3,773.5 87.5,772.0 C91.7,770.5 96.2,769.5 100.0,769.5 C103.8,769.5 105.8,770.7 110.0,772.0 C114.2,773.3 118.3,775.6 125.0,777.5 C131.7,779.4 141.7,781.4 150.0,783.2 C158.3,785.1 166.7,787.0 175.0,788.8 C183.3,790.5 191.7,791.9 200.0,793.8 C208.3,795.6 218.8,798.2 225.0,800.0 C231.2,801.8 234.4,803.6 237.5,804.5 C240.6,805.4 241.3,805.8 243.8,805.5 C246.3,805.2 249.4,804.5 252.5,803.0 C255.6,801.5 258.8,799.7 262.5,796.2 C266.2,792.8 270.4,787.3 275.0,782.5 C279.6,777.7 285.0,771.2 290.0,767.5 C295.0,763.8 300.4,762.0 305.0,760.5 C309.6,759.0 313.8,758.5 317.5,758.2 C321.2,758.0 323.8,758.1 327.5,758.8 C331.2,759.4 335.4,760.6 340.0,762.0 C344.6,763.4 349.6,765.1 355.0,767.0 C360.4,768.9 366.7,770.8 372.5,773.2 C378.3,775.8 384.6,779.2 390.0,782.0 C395.4,784.8 400.8,787.8 405.0,790.0 C409.2,792.2 411.7,793.5 415.0,795.0 C418.3,796.5 421.7,798.3 425.0,798.8 C428.3,799.2 431.2,798.4 435.0,797.5 C438.8,796.6 443.3,794.4 447.5,793.2 C451.7,792.1 456.2,790.6 460.0,790.5 C463.8,790.4 466.7,791.4 470.0,792.5 C473.3,793.6 476.7,795.3 480.0,797.0 C483.3,798.7 485.8,800.9 490.0,802.5 C494.2,804.1 499.6,805.6 505.0,806.8 C510.4,807.9 514.2,808.9 522.5,809.5 C530.8,810.1 545.4,810.1 555.0,810.5 C564.6,810.9 571.7,811.5 580.0,811.8 C588.3,812.0 598.3,811.5 605.0,811.8 C611.7,812.0 615.8,812.5 620.0,813.2 C624.2,814.0 626.2,814.7 630.0,816.2 C633.8,817.8 637.5,820.4 642.5,822.5 C647.5,824.6 654.6,827.4 660.0,828.8 C665.4,830.1 669.6,830.2 675.0,830.5 C680.4,830.8 687.5,830.8 692.5,830.5 C697.5,830.2 700.4,829.3 705.0,828.8 C709.6,828.2 715.0,828.0 720.0,827.0 C725.0,826.0 730.4,823.8 735.0,822.5 C739.6,821.2 743.3,820.5 747.5,819.2 C751.7,818.0 756.2,815.8 760.0,815.0 C763.8,814.2 766.2,814.3 770.0,814.2 C773.8,814.2 778.3,814.1 782.5,814.5 C786.7,814.9 790.4,816.0 795.0,816.8 C799.6,817.5 805.0,818.0 810.0,819.2 C815.0,820.5 820.4,822.8 825.0,824.5 C829.6,826.2 833.3,827.8 837.5,829.2 C841.7,830.7 846.2,832.4 850.0,833.0 C853.8,833.6 855.8,833.6 860.0,833.0 C864.2,832.4 870.0,830.5 875.0,829.2 C880.0,828.0 885.0,826.5 890.0,825.5 C895.0,824.5 899.2,823.8 905.0,823.0 C910.8,822.2 918.8,821.1 925.0,820.5 C931.2,819.9 936.7,819.8 942.5,819.5 C948.3,819.2 952.1,819.2 960.0,819.0 C967.9,818.8 982.5,818.8 990.0,818.0 C997.5,817.2 999.6,815.9 1005.0,814.5 C1010.4,813.1 1016.7,811.5 1022.5,809.5 C1028.3,807.5 1033.8,804.6 1040.0,802.5 C1046.2,800.4 1054.2,798.1 1060.0,797.0 C1065.8,795.9 1069.2,795.7 1075.0,795.8 C1080.8,795.8 1088.3,797.0 1095.0,797.5 C1101.7,798.0 1108.3,797.7 1115.0,798.8 C1121.7,799.8 1128.3,801.7 1135.0,803.8 C1141.7,805.8 1148.8,809.2 1155.0,811.2 C1161.2,813.3 1166.7,815.2 1172.5,816.2 C1178.3,817.3 1185.0,816.9 1190.0,817.5 C1195.0,818.1 1198.8,818.3 1202.5,820.0 C1206.2,821.7 1208.8,823.8 1212.5,827.5 C1216.2,831.2 1220.8,837.5 1225.0,842.5 C1229.2,847.5 1233.3,853.3 1237.5,857.5 C1241.7,861.7 1245.0,865.2 1250.0,867.5 C1255.0,869.8 1261.7,870.8 1267.5,871.2 C1273.3,871.7 1277.9,870.6 1285.0,870.0 C1292.1,869.4 1301.7,868.3 1310.0,867.5 C1318.3,866.7 1327.5,866.5 1335.0,865.0 C1342.5,863.5 1349.2,861.5 1355.0,858.8 C1360.8,856.0 1365.0,851.9 1370.0,848.8 C1375.0,845.6 1380.4,842.3 1385.0,840.0 C1389.6,837.7 1393.3,836.2 1397.5,835.0 C1401.7,833.8 1405.0,833.4 1410.0,833.0 C1415.0,832.6 1419.2,833.2 1427.5,832.5 C1435.8,831.8 1449.6,829.7 1460.0,828.8 C1470.4,827.8 1481.7,827.4 1490.0,827.0 C1498.3,826.6 1504.2,826.7 1510.0,826.2 C1515.8,825.8 1522.5,824.8 1525.0,824.5" fill="none" stroke="#ff0000" stroke-width="3" stroke-linejoin="round" stroke-linecap="round" shape-rendering="crispEdges"/>
</g>
<text x="7" y="763" font-size="14" fill="#000" textLength="225.5" lengthAdjust="spacingAndGlyphs" xml:space="preserve">MACD(5,34,5) -0.000382 -0.000451</text>
<g clip-path="url(#c3)">
<g shape-rendering="crispEdges">
<line x1="4" y1="921.5" x2="1840" y2="921.5" stroke="#000080" stroke-dasharray="3 3"/>
<line x1="4" y1="944.5" x2="1840" y2="944.5" stroke="#0000ff" stroke-dasharray="3 3"/>
<line x1="4" y1="967.5" x2="1840" y2="967.5" stroke="#000080" stroke-dasharray="3 3"/>
</g>
<polyline points="4.5,925.5 12.5,923.0 20.5,923.0 28.5,925.0 36.5,933.8 44.5,923.0 52.5,922.5 60.5,914.5 68.5,912.5 76.5,921.8 84.5,921.8 92.5,927.5 100.5,927.5 108.5,927.5 116.5,927.5 124.5,927.5 132.5,925.0 140.5,930.5 148.5,930.5 156.5,929.5 164.5,927.5 172.5,930.5 180.5,930.5 188.5,939.5 196.5,936.2 204.5,933.8 212.5,938.8 220.5,940.5 228.5,940.5" fill="none" stroke="#008000" stroke-width="4" stroke-linejoin="round" stroke-linecap="butt" shape-rendering="crispEdges"/>
<polyline points="228.5,940.5 236.5,960.0" fill="none" stroke="#ff0000" stroke-width="4" stroke-linejoin="round" stroke-linecap="butt" shape-rendering="crispEdges"/>
<polyline points="236.5,960.0 244.5,931.2 252.5,925.5 260.5,923.0 268.5,923.8 276.5,923.2 284.5,921.2 292.5,920.8 300.5,920.8 308.5,921.5 316.5,919.5 324.5,919.5 332.5,922.5 340.5,925.5 348.5,925.5 356.5,926.2 364.5,926.2 372.5,925.5 380.5,940.8 388.5,939.5 396.5,940.5 404.5,940.5 412.5,940.5 420.5,942.5 428.5,924.5 436.5,924.5 444.5,923.8 452.5,941.8 460.5,942.0 468.5,943.8 476.5,942.0 484.5,944.5 492.5,942.5 500.5,942.5 508.5,943.8 516.5,940.0 524.5,939.5 532.5,942.5 540.5,943.8 548.5,941.2 556.5,943.8 564.5,940.8 572.5,940.0 580.5,939.5 588.5,937.5 596.5,949.5 604.5,942.0 612.5,940.5" fill="none" stroke="#008000" stroke-width="4" stroke-linejoin="round" stroke-linecap="butt" shape-rendering="crispEdges"/>
<polyline points="612.5,940.5 620.5,952.5 628.5,959.5 636.5,954.5 644.5,952.0 652.5,952.0 660.5,954.5 668.5,954.5 676.5,952.5 684.5,952.5 692.5,952.5 700.5,952.5 708.5,945.5 716.5,947.5 724.5,940.8 732.5,938.0 740.5,937.5 748.5,937.5 756.5,936.8 764.5,936.8 772.5,945.8 780.5,954.5 788.5,947.0 796.5,943.0 804.5,943.0 812.5,956.2 820.5,963.8 828.5,955.8 836.5,955.0 844.5,954.5 852.5,953.8 860.5,947.0 868.5,944.5 876.5,944.2 884.5,944.2 892.5,944.2 900.5,943.8 908.5,944.2 916.5,947.5 924.5,943.2 932.5,943.2 940.5,948.2 948.5,942.0 956.5,942.5 964.5,943.8 972.5,943.2 980.5,948.8 988.5,941.2" fill="none" stroke="#ff0000" stroke-width="4" stroke-linejoin="round" stroke-linecap="butt" shape-rendering="crispEdges"/>
<polyline points="988.5,941.2 996.5,928.8 1004.5,933.0 1012.5,933.0 1020.5,928.8 1028.5,928.2 1036.5,923.8 1044.5,918.8 1052.5,927.5 1060.5,931.2 1068.5,931.2 1076.5,931.2 1084.5,930.5 1092.5,928.2 1100.5,932.5 1108.5,932.5 1116.5,941.8 1124.5,941.8 1132.5,941.8 1140.5,945.8 1148.5,948.8 1156.5,951.8 1164.5,948.0 1172.5,943.8 1180.5,944.5 1188.5,942.5" fill="none" stroke="#008000" stroke-width="4" stroke-linejoin="round" stroke-linecap="butt" shape-rendering="crispEdges"/>
<polyline points="1188.5,942.5 1196.5,956.2 1204.5,968.2 1212.5,976.2 1220.5,978.8 1228.5,978.8 1236.5,979.2 1244.5,979.5 1252.5,971.8 1260.5,974.5 1268.5,971.8 1276.5,971.8 1284.5,972.0 1292.5,973.8 1300.5,974.5 1308.5,975.0 1316.5,970.8 1324.5,970.5 1332.5,970.0 1340.5,965.8 1348.5,963.8 1356.5,959.2 1364.5,941.8 1372.5,947.0 1380.5,945.8 1388.5,951.2 1396.5,951.8 1404.5,950.5 1412.5,950.0 1420.5,951.8 1428.5,953.2 1436.5,946.2 1444.5,947.0 1452.5,947.0 1460.5,947.5 1468.5,949.5 1476.5,953.2 1484.5,950.5 1492.5,945.0 1500.5,945.0 1508.5,950.0 1516.5,947.0 1524.5,946.2" fill="none" stroke="#ff0000" stroke-width="4" stroke-linejoin="round" stroke-linecap="round" shape-rendering="crispEdges"/>
</g>
<text x="7" y="905" font-size="14" fill="#000" textLength="87.5" lengthAdjust="spacingAndGlyphs" xml:space="preserve">RSI(14) 48.24</text>
<g shape-rendering="crispEdges" fill="#000">
<rect x="4" y="1" width="1837" height="1"/>
<rect x="4" y="1" width="1" height="743"/>
<rect x="4" y="743" width="1837" height="1"/>
<rect x="1840" y="1" width="1" height="743"/>
<rect x="4" y="745" width="1837" height="1"/>
<rect x="4" y="745" width="1" height="141"/>
<rect x="4" y="885" width="1837" height="1"/>
<rect x="1840" y="745" width="1" height="141"/>
<rect x="4" y="887" width="1837" height="1"/>
<rect x="4" y="887" width="1" height="115"/>
<rect x="4" y="1001" width="1837" height="1"/>
<rect x="1840" y="887" width="1" height="115"/>
<rect x="1841" y="30" width="4" height="1"/>
<rect x="1841" y="95" width="4" height="1"/>
<rect x="1841" y="160" width="4" height="1"/>
<rect x="1841" y="225" width="4" height="1"/>
<rect x="1841" y="289" width="4" height="1"/>
<rect x="1841" y="354" width="4" height="1"/>
<rect x="1841" y="419" width="4" height="1"/>
<rect x="1841" y="484" width="4" height="1"/>
<rect x="1841" y="549" width="4" height="1"/>
<rect x="1841" y="613" width="4" height="1"/>
<rect x="1841" y="678" width="4" height="1"/>
<rect x="1841" y="746" width="4" height="1"/>
<rect x="1841" y="817" width="4" height="1"/>
<rect x="1841" y="884" width="4" height="1"/>
<rect x="1841" y="888" width="4" height="1"/>
<rect x="1841" y="921" width="4" height="1"/>
<rect x="1841" y="944" width="4" height="1"/>
<rect x="1841" y="967" width="4" height="1"/>
<rect x="1841" y="1000" width="4" height="1"/>
<rect x="4" y="1002" width="1" height="4"/>
<rect x="132" y="1002" width="1" height="4"/>
<rect x="260" y="1002" width="1" height="4"/>
<rect x="388" y="1002" width="1" height="4"/>
<rect x="516" y="1002" width="1" height="4"/>
<rect x="644" y="1002" width="1" height="4"/>
<rect x="772" y="1002" width="1" height="4"/>
<rect x="900" y="1002" width="1" height="4"/>
<rect x="1028" y="1002" width="1" height="4"/>
<rect x="1156" y="1002" width="1" height="4"/>
<rect x="1284" y="1002" width="1" height="4"/>
<rect x="1412" y="1002" width="1" height="4"/>
</g>
<polygon points="1004,2 1021,2 1012.5,10.5" fill="#000"/>
<text x="1847.3" y="36" font-size="14" fill="#000" textLength="50.3" lengthAdjust="spacingAndGlyphs" xml:space="preserve">1.09790</text>
<text x="1847.3" y="101" font-size="14" fill="#000" textLength="50.3" lengthAdjust="spacingAndGlyphs" xml:space="preserve">1.09680</text>
<text x="1847.3" y="166" font-size="14" fill="#000" textLength="50.3" lengthAdjust="spacingAndGlyphs" xml:space="preserve">1.09570</text>
<text x="1847.3" y="231" font-size="14" fill="#000" textLength="50.3" lengthAdjust="spacingAndGlyphs" xml:space="preserve">1.09460</text>
<text x="1847.3" y="295" font-size="14" fill="#000" textLength="50.3" lengthAdjust="spacingAndGlyphs" xml:space="preserve">1.09350</text>
<text x="1847.3" y="360" font-size="14" fill="#000" textLength="50.3" lengthAdjust="spacingAndGlyphs" xml:space="preserve">1.09240</text>
<text x="1847.3" y="425" font-size="14" fill="#000" textLength="50.3" lengthAdjust="spacingAndGlyphs" xml:space="preserve">1.09130</text>
<text x="1847.3" y="490" font-size="14" fill="#000" textLength="50.3" lengthAdjust="spacingAndGlyphs" xml:space="preserve">1.09020</text>
<text x="1847.3" y="555" font-size="14" fill="#000" textLength="50.3" lengthAdjust="spacingAndGlyphs" xml:space="preserve">1.08910</text>
<text x="1847.3" y="619" font-size="14" fill="#000" textLength="50.3" lengthAdjust="spacingAndGlyphs" xml:space="preserve">1.08800</text>
<text x="1847.3" y="684" font-size="14" fill="#000" textLength="50.3" lengthAdjust="spacingAndGlyphs" xml:space="preserve">1.08690</text>
<g shape-rendering="crispEdges"><rect x="1843" y="557" width="60" height="1" fill="#ef5350"/><rect x="1843" y="558" width="60" height="17" fill="#26a69a"/></g>
<text x="1847.3" y="572" font-size="14" fill="#fff" textLength="50.3" lengthAdjust="spacingAndGlyphs" xml:space="preserve">1.08880</text>
<text x="1845.5" y="759" font-size="14" fill="#000" textLength="60.3" lengthAdjust="spacingAndGlyphs" xml:space="preserve">0.004243</text>
<text x="1845.5" y="823" font-size="14" fill="#000" textLength="60.3" lengthAdjust="spacingAndGlyphs" xml:space="preserve">0.000000</text>
<text x="1845.8" y="882" font-size="14" fill="#000" textLength="65" lengthAdjust="spacingAndGlyphs" xml:space="preserve">-0.003960</text>
<text x="1847" y="901" font-size="14" fill="#000" textLength="42.5" lengthAdjust="spacingAndGlyphs" xml:space="preserve">100.00</text>
<text x="1846.3" y="927" font-size="14" fill="#000" textLength="35.3" lengthAdjust="spacingAndGlyphs" xml:space="preserve">70.00</text>
<text x="1846.3" y="950" font-size="14" fill="#000" textLength="35.3" lengthAdjust="spacingAndGlyphs" xml:space="preserve">50.00</text>
<text x="1846.3" y="973" font-size="14" fill="#000" textLength="35.3" lengthAdjust="spacingAndGlyphs" xml:space="preserve">30.00</text>
<text x="1845.5" y="998" font-size="14" fill="#000" textLength="28" lengthAdjust="spacingAndGlyphs" xml:space="preserve">0.00</text>
<text x="3.7" y="1019" font-size="14" fill="#000" textLength="70.7" lengthAdjust="spacingAndGlyphs" xml:space="preserve">6 Mar 2024</text>
<text x="132.7" y="1019" font-size="14" fill="#000" textLength="74.6" lengthAdjust="spacingAndGlyphs" xml:space="preserve">7 Mar 02:00</text>
<text x="260.7" y="1019" font-size="14" fill="#000" textLength="74.6" lengthAdjust="spacingAndGlyphs" xml:space="preserve">7 Mar 18:00</text>
<text x="388.7" y="1019" font-size="14" fill="#000" textLength="74.6" lengthAdjust="spacingAndGlyphs" xml:space="preserve">8 Mar 10:00</text>
<text x="516.7" y="1019" font-size="14" fill="#000" textLength="81.3" lengthAdjust="spacingAndGlyphs" xml:space="preserve">11 Mar 02:00</text>
<text x="644.7" y="1019" font-size="14" fill="#000" textLength="81.3" lengthAdjust="spacingAndGlyphs" xml:space="preserve">11 Mar 18:00</text>
<text x="772.7" y="1019" font-size="14" fill="#000" textLength="82.3" lengthAdjust="spacingAndGlyphs" xml:space="preserve">12 Mar 10:00</text>
<text x="900.7" y="1019" font-size="14" fill="#000" textLength="82.3" lengthAdjust="spacingAndGlyphs" xml:space="preserve">13 Mar 02:00</text>
<text x="1028.7" y="1019" font-size="14" fill="#000" textLength="82.3" lengthAdjust="spacingAndGlyphs" xml:space="preserve">13 Mar 18:00</text>
<text x="1156.7" y="1019" font-size="14" fill="#000" textLength="82.3" lengthAdjust="spacingAndGlyphs" xml:space="preserve">14 Mar 10:00</text>
<text x="1284.7" y="1019" font-size="14" fill="#000" textLength="82.3" lengthAdjust="spacingAndGlyphs" xml:space="preserve">15 Mar 02:00</text>
<text x="1412.7" y="1019" font-size="14" fill="#000" textLength="82.3" lengthAdjust="spacingAndGlyphs" xml:space="preserve">15 Mar 18:00</text>
<text x="72" y="23" font-size="14" fill="#000" textLength="442.5" lengthAdjust="spacingAndGlyphs" xml:space="preserve">EURUSD.dr, H1:  Euro vs US Dollar  1.08874 1.08886 1.08853 1.08880</text>
<g fill="none" stroke-width="1.4">
<path d="M23.6,10.1 H15 Q13.2,10.1 13.2,12 V23.3 Q13.2,25.1 15,25.1 H23.6" stroke="#d9372f"/>
<path d="M23.6,10.1 H32.3 Q34.1,10.1 34.1,12 V23.3 Q34.1,25.1 32.3,25.1 H23.6" stroke="#0a5ea8"/>
</g>
<rect x="15.4" y="13" width="7.6" height="9.6" fill="#ffe3dc"/><rect x="24.2" y="13" width="7.8" height="9.6" fill="#c9e8ff"/>
<line x1="15.4" y1="13.2" x2="22.8" y2="13.2" stroke="#d9372f" stroke-width="1.4"/>
<line x1="24.4" y1="13.2" x2="31.9" y2="13.2" stroke="#0a5ea8" stroke-width="1.4"/>
<line x1="15.4" y1="17.7" x2="22.8" y2="17.7" stroke="#d9372f" stroke-width="1.4"/>
<line x1="24.4" y1="17.7" x2="31.9" y2="17.7" stroke="#0a5ea8" stroke-width="1.4"/>
<line x1="15.4" y1="22.3" x2="22.8" y2="22.3" stroke="#d9372f" stroke-width="1.4"/>
<line x1="24.4" y1="22.3" x2="31.9" y2="22.3" stroke="#0a5ea8" stroke-width="1.4"/>
<path d="M46.6,10.3 H48.6 Q49.7,10.3 49.7,11.4 V16.2 H52.8 Q53.9,16.2 53.9,17.3 V23.8 Q53.9,24.9 52.8,24.9 H46.6 Q45.4,24.9 45.4,23.8 V11.4 Q45.4,10.3 46.6,10.3 Z" fill="#ffe0d6" stroke="#d9372f" stroke-width="1.4"/>
<path d="M65,10.3 H63 Q61.9,10.3 61.9,11.4 V16.2 H58.8 Q57.6,16.2 57.6,17.3 V23.8 Q57.6,24.9 58.8,24.9 H65 Q66.1,24.9 66.1,23.8 V11.4 Q66.1,10.3 65,10.3 Z" fill="#c4e6ff" stroke="#0a5ea8" stroke-width="1.4"/>
<rect x="52.8" y="10.3" width="6.2" height="2.8" rx="1.2" fill="#fff" stroke="#a6a6a6" stroke-width="1.2"/>
</svg></body></html>
